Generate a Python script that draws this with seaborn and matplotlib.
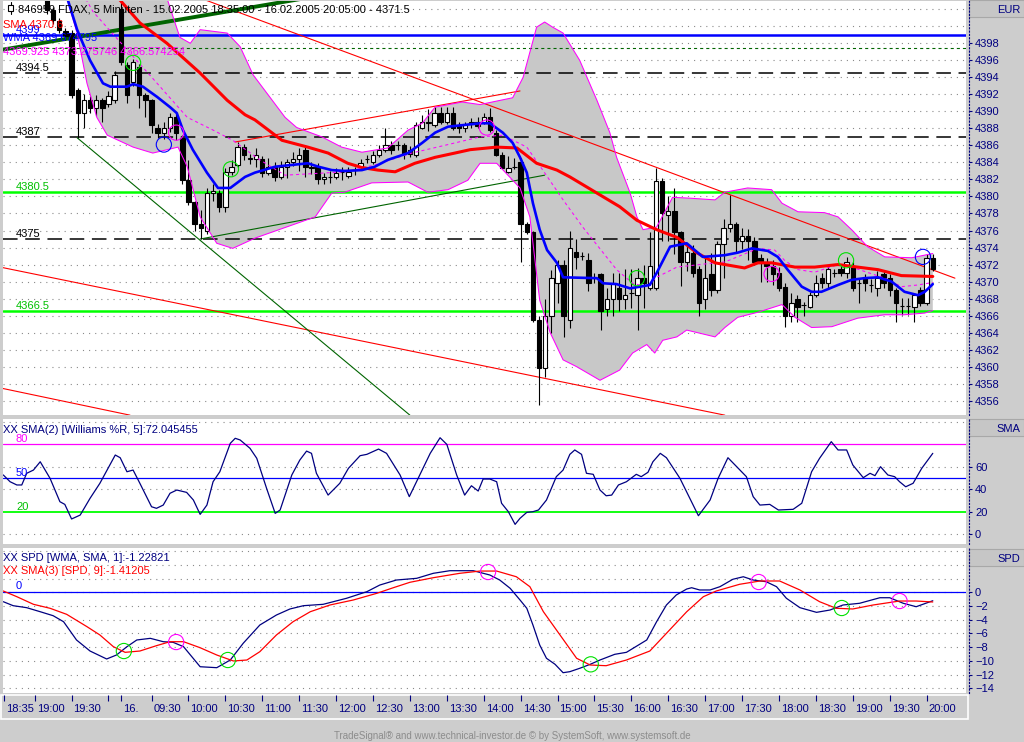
import matplotlib
matplotlib.use('Agg')
import numpy as np
import seaborn as sns
from matplotlib import pyplot as plt
from matplotlib import transforms
from matplotlib.lines import Line2D
from matplotlib.patches import Rectangle

# ---------------- data (bar index = 5 minute bar, 0 = 15.02. 18:35) ----------------
first_bar = 7
opens = [4404.0, 4401.9, 4400.6, 4399.4, 4399.2, 4392.5, 4389.8, 4391.3, 4390.4, 4391.3,
         4390.9, 4391.3, 4402.0, 4395.4, 4393.4, 4395.2, 4391.9, 4391.3, 4388.0, 4387.4,
         4388.0, 4389.3, 4386.9, 4381.9, 4379.3, 4376.8, 4375.9, 4380.4, 4380.4, 4378.8,
         4382.9, 4383.7, 4385.8, 4384.4, 4384.4, 4384.4, 4382.8, 4383.5, 4382.3, 4383.5,
         4384.0, 4384.4, 4385.5, 4383.5, 4383.5, 4382.0, 4382.3, 4382.3, 4382.9, 4382.4,
         4383.1, 4383.5, 4384.4, 4384.0, 4384.9, 4385.5, 4386.0, 4386.0, 4386.0, 4385.5,
         4384.9, 4388.0, 4388.6, 4388.4, 4389.8, 4388.7, 4389.8, 4388.4, 4388.0, 4388.5,
         4388.8, 4388.7, 4389.3, 4387.4, 4384.9, 4382.9, 4383.5, 4384.0, 4376.8, 4375.8,
         4365.5, 4359.9, 4366.0, 4369.8, 4371.9, 4365.5, 4373.5, 4373.0, 4372.5, 4370.4,
         4370.9, 4366.8, 4367.9, 4369.3, 4367.9, 4368.6, 4368.4, 4370.4, 4369.3, 4369.3,
         4381.8, 4377.8, 4378.3, 4375.8, 4372.3, 4373.3, 4371.5, 4368.0, 4370.9, 4369.0,
         4374.4, 4376.3, 4376.8, 4374.8, 4375.4, 4374.8, 4372.8, 4372.3, 4371.8, 4371.0,
         4369.4, 4366.0, 4368.0, 4367.2, 4367.0, 4368.4, 4370.4, 4369.8, 4371.0, 4371.5,
         4371.0, 4371.8, 4369.8, 4370.4, 4369.6, 4369.3, 4370.9, 4370.4, 4369.0, 4367.1,
         4367.1, 4367.0, 4369.0, 4367.5, 4372.8]
highs = [4405.0, 4402.3, 4401.0, 4399.8, 4399.6, 4392.8, 4392.0, 4391.8, 4391.9, 4391.6,
         4392.4, 4394.8, 4403.3, 4395.8, 4396.2, 4395.6, 4392.2, 4391.5, 4388.5, 4388.7,
         4389.8, 4389.7, 4387.2, 4384.3, 4379.5, 4378.4, 4381.0, 4381.5, 4380.8, 4383.3,
         4384.3, 4386.4, 4386.2, 4385.0, 4385.7, 4384.7, 4384.5, 4384.0, 4384.2, 4384.4,
         4385.2, 4385.7, 4386.0, 4384.0, 4383.9, 4382.7, 4383.0, 4383.3, 4383.5, 4383.5,
         4383.5, 4384.4, 4384.9, 4385.3, 4386.0, 4388.0, 4386.5, 4386.5, 4386.3, 4385.9,
         4388.8, 4389.6, 4390.3, 4390.5, 4390.5, 4390.5, 4390.5, 4388.8, 4388.8, 4389.2,
         4389.3, 4389.8, 4390.4, 4387.8, 4385.2, 4384.7, 4384.5, 4384.5, 4377.0, 4376.0,
         4366.0, 4368.0, 4371.4, 4372.5, 4372.5, 4376.0, 4375.0, 4373.5, 4373.3, 4371.0,
         4371.0, 4369.3, 4371.0, 4371.0, 4371.5, 4371.5, 4371.6, 4371.9, 4375.8, 4383.3,
         4382.2, 4380.0, 4381.0, 4376.0, 4374.3, 4374.3, 4371.8, 4373.0, 4373.3, 4374.8,
         4377.3, 4380.2, 4377.0, 4376.3, 4376.2, 4375.2, 4373.2, 4372.8, 4372.5, 4371.7,
         4369.8, 4368.7, 4368.4, 4367.6, 4368.8, 4370.8, 4371.0, 4371.8, 4371.5, 4371.8,
         4372.9, 4372.3, 4370.4, 4370.9, 4370.3, 4371.2, 4371.3, 4370.9, 4369.2, 4368.1,
         4368.1, 4368.6, 4369.4, 4373.2, 4373.2]
lows = [4401.5, 4400.3, 4399.2, 4398.4, 4391.6, 4386.9, 4388.0, 4389.8, 4389.4, 4388.7,
        4390.5, 4391.0, 4395.5, 4391.0, 4393.0, 4390.4, 4389.3, 4387.4, 4386.9, 4386.8,
        4387.6, 4386.6, 4381.5, 4379.0, 4376.0, 4375.0, 4375.6, 4379.5, 4378.2, 4378.2,
        4382.5, 4383.5, 4384.3, 4383.8, 4383.5, 4382.3, 4382.5, 4381.8, 4382.0, 4382.2,
        4383.6, 4383.0, 4382.3, 4382.6, 4381.5, 4381.5, 4381.6, 4382.1, 4381.9, 4382.2,
        4382.5, 4383.1, 4383.9, 4383.8, 4384.6, 4385.2, 4385.0, 4385.5, 4384.4, 4384.6,
        4384.6, 4387.9, 4387.7, 4388.2, 4388.5, 4388.5, 4387.8, 4387.5, 4387.6, 4388.0,
        4388.0, 4388.5, 4387.6, 4384.8, 4383.3, 4382.7, 4383.2, 4372.3, 4375.6, 4365.3,
        4355.5, 4358.8, 4364.0, 4367.5, 4363.5, 4364.5, 4371.5, 4372.5, 4368.9, 4369.8,
        4364.3, 4366.0, 4366.0, 4366.5, 4366.8, 4366.9, 4364.3, 4366.9, 4369.0, 4369.0,
        4374.8, 4374.8, 4373.2, 4369.5, 4371.2, 4370.5, 4366.0, 4366.8, 4368.3, 4368.7,
        4370.4, 4375.8, 4373.5, 4373.8, 4372.5, 4371.9, 4370.0, 4370.0, 4369.6, 4368.9,
        4364.7, 4365.3, 4365.3, 4366.0, 4366.9, 4368.2, 4369.3, 4369.3, 4370.5, 4370.6,
        4370.4, 4368.9, 4367.5, 4368.9, 4368.8, 4368.3, 4369.3, 4368.3, 4365.2, 4366.1,
        4366.1, 4365.3, 4367.1, 4367.3, 4371.2]
closes = [4401.9, 4400.7, 4399.6, 4398.9, 4391.9, 4389.8, 4391.3, 4390.4, 4391.3, 4390.4,
          4391.8, 4394.3, 4395.8, 4391.9, 4395.8, 4391.9, 4391.3, 4388.4, 4387.4, 4388.0,
          4389.3, 4387.4, 4381.9, 4379.3, 4376.8, 4376.3, 4380.4, 4380.6, 4378.8, 4382.9,
          4383.5, 4385.8, 4384.9, 4384.5, 4384.9, 4382.8, 4383.5, 4382.3, 4383.5, 4384.0,
          4384.4, 4384.9, 4383.5, 4383.3, 4382.0, 4382.3, 4382.3, 4382.8, 4382.9, 4382.9,
          4383.1, 4383.9, 4384.4, 4384.9, 4385.5, 4386.0, 4385.5, 4386.0, 4385.0, 4385.0,
          4388.4, 4388.8, 4388.8, 4389.8, 4388.7, 4389.8, 4388.0, 4388.0, 4388.4, 4388.7,
          4388.3, 4389.3, 4387.8, 4384.9, 4383.4, 4383.4, 4383.5, 4376.8, 4375.8, 4365.5,
          4359.9, 4366.0, 4370.4, 4371.9, 4366.0, 4374.0, 4372.9, 4373.0, 4369.8, 4370.4,
          4366.5, 4367.9, 4369.8, 4367.9, 4368.4, 4368.6, 4370.4, 4369.8, 4371.8, 4381.8,
          4378.0, 4378.3, 4375.8, 4372.3, 4373.5, 4371.0, 4367.5, 4370.4, 4369.0, 4374.4,
          4376.3, 4376.8, 4374.8, 4375.4, 4374.8, 4372.3, 4372.3, 4371.8, 4370.9, 4369.3,
          4366.0, 4367.5, 4367.0, 4367.2, 4368.4, 4369.8, 4369.8, 4371.5, 4371.0, 4371.0,
          4372.3, 4369.3, 4369.8, 4369.8, 4369.6, 4370.4, 4369.8, 4369.0, 4367.5, 4367.1,
          4367.1, 4368.4, 4367.5, 4372.8, 4371.5]

sma_bar = [18.0, 22.1, 26.5, 31.9, 36.3, 39.2, 40.8, 45.2, 49.4, 52.7, 55.9, 58.2, 60.8, 63.6,
           66.8, 70.1, 73.3, 75.8, 80.1, 83.4, 86.6, 89.9, 92.0, 96.4, 100.1, 102.9, 106.1,
           109.4, 112.6, 115.6, 120.4, 122.6, 124.8, 128.6, 131.8, 135.6, 138.8, 142.1, 145.9, 151.0]
sma_val = [4403.8, 4400.4, 4398.0, 4394.5, 4391.3, 4389.6, 4389.0, 4386.6, 4385.8, 4385.1,
           4383.9, 4383.4, 4383.1, 4382.9, 4383.9, 4384.6, 4385.1, 4385.5, 4385.8, 4385.7,
           4383.9, 4383.1, 4382.3, 4380.4, 4378.8, 4377.2, 4376.1, 4375.2, 4373.4, 4372.2,
           4371.6, 4372.2, 4372.2, 4371.7, 4371.7, 4372.0, 4371.7, 4371.4, 4370.7, 4370.6]

wma_bar = [10.3, 11.9, 14.0, 16.1, 17.3, 20.0, 21.0, 22.6, 24.9, 27.0, 28.1, 29.1, 30.7, 33.0,
           34.8, 36.8, 39.2, 40.8, 44.1, 49.4, 51.1, 53.3, 55.4, 58.2, 60.3, 62.4, 65.7, 68.0,
           70.1, 72.2, 77.4, 79.0, 81.1, 82.7, 83.9, 85.0, 86.0, 87.1, 88.3, 89.9, 90.9, 96.4,
           97.4, 99.6, 101.8, 105.0, 106.1, 108.3, 111.0, 113.6, 117.2, 119.3, 121.6, 124.2,
           125.8, 127.4, 129.7, 131.3, 132.9, 135.6, 137.8, 139.9, 142.1, 144.3, 146.4, 148.6,
           149.7, 151.0]
wma_val = [4403.3, 4399.6, 4396.0, 4393.3, 4392.9, 4392.9, 4393.2, 4392.9, 4391.7, 4390.5,
           4389.8, 4387.8, 4385.5, 4382.8, 4381.0, 4381.0, 4382.3, 4382.8, 4383.5, 4383.9,
           4383.5, 4383.1, 4383.0, 4383.1, 4383.5, 4384.3, 4385.1, 4386.3, 4387.5, 4388.2,
           4388.6, 4388.6, 4387.5, 4386.3, 4384.6, 4382.8, 4379.2, 4376.1, 4373.7, 4372.2,
           4370.5, 4370.4, 4369.8, 4369.7, 4369.2, 4369.6, 4371.0, 4374.1, 4374.5, 4372.9,
           4373.1, 4373.4, 4373.9, 4373.6, 4372.9, 4371.4, 4369.4, 4368.8, 4368.8, 4369.6,
           4370.2, 4370.4, 4370.5, 4370.0, 4368.8, 4368.4, 4368.8, 4369.7]

bb_up_bar = [8.6, 26.5, 28.6, 30.3, 31.9, 36.3, 38.4, 40.5, 45.7, 47.6, 51.7, 54.9, 58.2, 62.4,
             65.7, 68.0, 70.1, 74.5, 77.4, 82.7, 84.4, 86.6, 87.9, 89.2, 90.9, 93.6, 96.4, 98.5,
             99.6, 101.8, 102.9, 103.9, 106.1, 108.7, 111.5, 115.6, 117.2, 120.9, 124.8, 126.5,
             129.1, 133.4, 135.6, 137.8, 140.4, 143.2, 147.6, 151.0]
bb_up_val = [4404.0, 4403.3, 4398.7, 4398.0, 4399.6, 4399.2, 4397.6, 4394.3, 4389.3, 4388.1,
             4387.0, 4385.8, 4385.2, 4385.7, 4387.8, 4388.6, 4390.5, 4391.1, 4390.8, 4391.6,
             4394.0, 4399.9, 4400.5, 4399.9, 4399.2, 4396.0, 4391.3, 4387.5, 4384.6, 4380.4,
             4377.6, 4376.1, 4376.4, 4379.9, 4379.8, 4379.6, 4380.5, 4381.0, 4380.8, 4379.2,
             4378.2, 4378.1, 4377.6, 4376.1, 4374.1, 4372.9, 4372.8, 4373.3]
bb_lo_bar = [8.6, 10.3, 11.9, 13.5, 15.1, 16.8, 21.0, 24.2, 28.3, 29.8, 31.9, 34.6, 37.2, 40.8,
             50.6, 53.3, 55.4, 59.8, 65.7, 68.9, 72.2, 75.4, 77.4, 80.1, 83.9, 85.5, 87.1, 88.8,
             90.9, 93.1, 96.9, 100.1, 102.2, 104.5, 105.8, 107.1, 109.4, 111.0, 115.6, 117.2,
             119.3, 122.6, 126.5, 128.6, 131.3, 134.6, 138.8, 143.2, 146.4, 149.7, 151.0]
bb_lo_val = [4404.0, 4403.1, 4399.2, 4393.3, 4389.3, 4387.2, 4385.8, 4385.1, 4385.8, 4383.5,
             4377.6, 4374.5, 4373.9, 4375.1, 4377.6, 4380.4, 4380.5, 4381.6, 4381.7, 4380.5,
             4380.8, 4381.9, 4383.9, 4383.9, 4381.0, 4377.6, 4367.8, 4364.0, 4360.8, 4360.0,
             4358.4, 4359.6, 4361.6, 4362.6, 4361.6, 4363.1, 4363.5, 4364.3, 4363.5, 4364.6,
             4365.8, 4366.4, 4367.3, 4365.8, 4364.6, 4364.7, 4365.7, 4366.1, 4366.1, 4366.3,
             4366.6]
bb_mid_bar = [13.0, 14.5, 24.9, 29.8, 34.0, 37.2, 41.6, 45.7, 55.5, 60.3, 66.3, 72.2, 77.4, 81.1,
              85.0, 87.6, 90.9, 94.1, 97.4, 99.6, 102.2, 104.5, 106.1, 109.4, 115.6, 117.2,
              122.6, 125.3, 126.9, 129.1, 131.8, 135.6, 137.8, 143.2, 145.9, 148.6, 151.0]
bb_mid_val = [4403.6, 4401.7, 4393.3, 4389.3, 4387.8, 4386.6, 4384.3, 4382.5, 4382.9, 4383.7,
              4385.1, 4386.1, 4387.0, 4387.2, 4385.8, 4383.1, 4379.6, 4376.4, 4373.4, 4371.4,
              4369.8, 4369.4, 4370.5, 4371.7, 4372.2, 4372.3, 4373.9, 4373.7, 4372.5, 4371.4,
              4371.1, 4372.0, 4371.7, 4370.4, 4369.4, 4369.6, 4369.9]

# drawn trend lines: (bar, price) anchors
trend_red = [([32.7, 154.6], [4403.1, 4370.4]),
             ([-0.6, 117.2], [4371.7, 4354.3]),
             ([-0.6, 20.5], [4357.5, 4354.3]),
             ([37.6, 83.9], [4386.4, 4392.4])]
trend_green = [([11.9, 66.0], [4386.9, 4354.3]),
               ([31.9, 87.9], [4375.0, 4382.5])]
trend_green_thick = ([-0.6, 49.0], [4397.2, 4403.3])

levels_black = [4394.5, 4387, 4375]
levels_green = [4380.5, 4366.5]
level_blue = 4399
level_green_dash = 4397.5

main_circle_bar = [21.0, 26.0, 28.0, 36.9, 78.5, 102.9, 124.8, 136.9, 149.4]
main_circle_val = [4395.7, 4386.1, 4387.5, 4383.2, 4388.1, 4370.4, 4370.9, 4372.5, 4372.9]
main_circle_kind = ['g', 'b', 'm', 'g', 'm', 'g', 'm', 'g', 'b']

will_bar = [-0.1, 1.0, 2.1, 2.9, 3.7, 4.8, 5.9, 7.5, 9.1, 9.9,
            11.0, 12.4, 14.0, 15.6, 18.1, 18.9, 20.0, 21.0, 22.1, 24.0,
            24.8, 25.9, 27.0, 28.1, 29.7, 30.8, 31.9, 33.0, 34.0, 35.1,
            36.8, 37.6, 38.4, 40.0, 41.1, 42.7, 44.1, 44.9, 46.8, 48.1,
            49.2, 50.0, 50.8, 52.7, 54.6, 56.0, 57.9, 59.0, 60.9, 62.2,
            64.4, 65.9, 67.6, 69.3, 70.9, 72.0, 73.6, 74.9, 76.0, 77.1,
            77.9, 79.0, 80.1, 80.9, 82.0, 83.1, 83.9, 85.0, 86.0, 86.9,
            88.2, 89.8, 90.9, 92.0, 92.8, 93.9, 94.7, 95.8, 96.9, 97.9,
            98.8, 99.9, 101.2, 102.8, 103.6, 104.7, 105.5, 106.7, 107.7, 109.9,
            112.9, 114.8, 116.1, 117.7, 120.7, 121.8, 122.9, 124.5, 125.9, 128.3,
            129.7, 131.3, 132.6, 134.5, 135.6, 137.0, 138.0, 139.7, 140.8, 141.6,
            142.5, 143.7, 144.8, 145.6, 146.6, 147.8, 149.2, 151.0]
will_val = [52.7, 46.7, 43.8, 43.8, 54.2, 57.1, 64.5, 49.7, 28.9, 26.5,
            13.5, 17.0, 31.9, 45.3, 70.5, 68.1, 55.6, 57.1, 45.3, 24.4,
            23.0, 25.9, 36.4, 39.3, 37.2, 30.4, 17.6, 25.9, 46.7, 55.6,
            80.9, 85.4, 83.9, 76.5, 67.6, 40.8, 18.5, 21.5, 52.7, 66.0,
            74.0, 72.0, 54.2, 34.8, 45.3, 58.6, 69.9, 71.1, 75.8, 72.0,
            52.7, 33.4, 52.7, 72.0, 85.9, 80.0, 52.7, 34.8, 43.1, 38.4,
            49.1, 49.1, 46.7, 27.5, 20.0, 8.7, 14.1, 19.4, 20.0, 21.5,
            30.4, 51.2, 57.1, 71.1, 75.0, 71.1, 54.2, 53.3, 39.3, 34.2,
            34.8, 43.8, 46.7, 53.3, 51.2, 55.1, 64.5, 72.0, 68.1, 49.7,
            16.4, 30.4, 49.7, 68.1, 51.2, 33.4, 25.9, 26.5, 21.5, 22.1,
            27.5, 55.6, 67.6, 82.4, 75.0, 75.0, 61.6, 50.3, 54.2, 52.1,
            60.1, 52.7, 51.2, 46.7, 42.2, 45.3, 58.6, 72.0]

spd_bar = [-0.1, 1.5, 3.7, 5.9, 8.0, 9.7, 11.8, 14.0, 16.7, 18.3,
           20.0, 21.6, 23.8, 25.9, 27.5, 29.2, 31.9, 34.6, 36.8, 38.9,
           41.6, 44.3, 46.5, 48.7, 51.9, 55.7, 59.0, 61.1, 63.8, 67.1,
           69.8, 72.5, 76.3, 79.0, 80.6, 82.3, 83.9, 85.0, 86.0, 87.1,
           88.2, 89.6, 90.9, 92.0, 93.6, 95.3, 96.9, 99.3, 101.2, 104.5,
           106.1, 107.7, 109.3, 111.0, 111.8, 113.1, 114.8, 116.4, 118.5, 120.2,
           121.8, 123.9, 125.6, 127.2, 129.4, 132.1, 134.3, 136.4, 139.1, 142.4,
           144.0, 146.2, 148.3, 151.0]
spd_val = [-1.37, -1.95, -2.24, -2.83, -3.41, -4.29, -6.95, -8.56, -9.72, -9.14,
           -7.93, -6.95, -6.71, -7.2, -7.29, -7.93, -10.85, -10.99, -9.87, -7.43,
           -4.77, -3.31, -2.43, -1.95, -1.75, -0.87, 0.09, 1.06, 1.79, 2.04,
           2.77, 3.15, 3.15, 2.52, 1.79, 0.58, -1.12, -2.33, -4.77, -7.68,
           -9.62, -10.5, -11.72, -11.57, -11.08, -10.5, -9.87, -9.04, -8.75, -6.95,
           -4.29, -1.85, -0.39, 0.48, 0.67, 0.34, 0.34, 0.82, 1.9, 2.27,
           1.79, 1.55, 0.82, -0.87, -2.24, -2.92, -2.58, -1.85, -1.6, -0.79,
           -0.79, -1.6, -2.1, -1.23]
sig_bar = [-0.1, 2.1, 4.8, 7.5, 10.2, 13.5, 15.6, 17.8, 19.7, 22.1,
           24.8, 27.0, 29.2, 31.9, 34.6, 37.3, 39.5, 41.6, 44.3, 47.0,
           49.8, 53.0, 56.8, 60.6, 63.3, 66.0, 69.8, 74.1, 77.4, 80.1,
           83.3, 85.5, 87.7, 90.4, 93.1, 95.3, 97.9, 101.2, 105.0, 107.7,
           111.0, 113.7, 115.8, 119.6, 122.9, 126.1, 129.4, 132.6, 135.3, 138.0,
           141.3, 145.6, 148.3, 151.0]
sig_val = [0.19, -0.64, -1.75, -2.33, -3.21, -5.01, -6.22, -7.93, -8.75, -8.56,
           -7.78, -7.2, -7.2, -8.08, -9.14, -10.01, -9.87, -8.66, -6.22, -4.29,
           -2.83, -1.85, -1.12, -0.15, 0.67, 1.46, 2.13, 2.77, 3.1, 3.1,
           2.27, 0.82, -2.83, -6.22, -9.62, -10.6, -10.7, -9.87, -8.56, -5.98,
           -2.83, -0.64, 0.19, 1.17, 1.65, 1.65, 0.34, -1.37, -2.33, -2.43,
           -1.85, -1.27, -1.27, -1.41]
spd_circle_bar = [19.5, 28.0, 36.4, 78.7, 95.4, 122.7, 136.2, 145.6]
spd_circle_val = [-8.56, -7.25, -9.87, 2.96, -10.5, 1.5, -2.29, -1.27]
spd_circle_kind = ['g', 'm', 'g', 'm', 'g', 'm', 'g', 'm']

time_labels = ['18:35', '19:00', '19:30', '16.', '09:30', '10:00', '10:30', '11:00', '11:30',
               '12:00', '12:30', '13:00', '13:30', '14:00', '14:30', '15:00', '15:30', '16:00',
               '16:30', '17:00', '17:30', '18:00', '18:30', '19:00', '19:30', '20:00']
time_label_bars = [0, 5, 11, 19, 24, 30, 36, 42, 48, 54, 60, 66, 72, 78, 84, 90, 96, 102,
                   108, 114, 120, 126, 132, 138, 144, 150]

# ---------------- style ----------------
W, H = 1024, 742
NAVY = '#000080'
BG = '#cdcdcd'
GRID = '#8a8a8a'
CIRCLE = {'g': '#00e000', 'b': '#0000ff', 'm': '#ff00ff'}
XLIM = (-0.15, 156.4)

sns.set_style('white')
plt.rcParams['font.family'] = ['Liberation Sans', 'DejaVu Sans']
plt.rcParams['lines.scale_dashes'] = False
NARROW = ['Liberation Sans Narrow', 'Liberation Sans', 'DejaVu Sans']

fig = plt.figure(figsize=(W / 100, H / 100), dpi=100, facecolor=BG)


def fig_box(x0, y0, x1, y1):
    return [x0 / W, 1 - y1 / H, (x1 - x0) / W, (y1 - y0) / H]


def px_text(x, y, s, **kw):
    kw.setdefault('fontsize', 8)
    kw.setdefault('va', 'baseline')
    kw.setdefault('zorder', 10)
    fig.text(x / W, 1 - y / H, s, **kw)


def style_panel(ax, ylim, ticks, grid_levels):
    ax.set_facecolor('white')
    ax.set_xlim(*XLIM)
    ax.set_ylim(*ylim)
    for s in ['top', 'left', 'bottom']:
        ax.spines[s].set_visible(False)
    ax.spines['right'].set_position(('outward', 2.5))
    ax.spines['right'].set_linestyle((0, (0.8, 1.6)))
    ax.spines['right'].set_color(NAVY)
    ax.spines['right'].set_linewidth(0.8)
    ax.yaxis.tick_right()
    ax.set_yticks(ticks)
    ax.tick_params(axis='y', direction='out', length=2.5, width=0.8, colors=NAVY,
                   labelsize=8, pad=1.5)
    ax.tick_params(axis='x', bottom=False, labelbottom=False)
    for g in grid_levels:
        ax.axhline(g, color=GRID, lw=0.8, ls=(0, (0.8, 3.6)), zorder=0.5)
    ax.set_xlabel('')
    ax.set_ylabel('')


def line(ax, xs, ys, color, lw, z, ls='-'):
    sns.lineplot(x=xs, y=ys, ax=ax, color=color, linewidth=lw, estimator=None,
                 sort=False, zorder=z)
    ax.lines[-1].set_linestyle(ls)


def level_label(ax, y, s, color, dy=2):
    trans = transforms.blended_transform_factory(ax.transAxes, ax.transData)
    trans = transforms.offset_copy(trans, fig=fig, x=0, y=dy, units='dots')
    ax.text(13 / 963, y, s, color=color, fontsize=8, va='baseline', transform=trans, zorder=6)


# header boxes of the right scales and the time strip (below the axes)
for y0, y1, lab in [(0, 17, 'EUR'), (419, 436, 'SMA'), (549, 566, 'SPD')]:
    fig.add_artist(Rectangle((969 / W, 1 - y1 / H), 55 / W, (y1 - y0) / H,
                             transform=fig.transFigure, fc='#c6c6c6', ec='#a8a8a8', lw=0.8,
                             zorder=-2))
    px_text(1020, y0 + 13, lab, color=NAVY, ha='right')
fig.add_artist(Rectangle((1 / W, 1 - 719 / H), 967 / W, 24 / H, transform=fig.transFigure,
                         fc=BG, ec='white', lw=1.2, zorder=-2))

ax_main = fig.add_axes(fig_box(3, 1, 966, 415))
ax_will = fig.add_axes(fig_box(3, 419, 966, 544))
ax_spd = fig.add_axes(fig_box(3, 548, 966, 693))
ax_time = fig.add_axes(fig_box(3, 695, 966, 718))

# ---------------- main price panel ----------------
bars = np.arange(first_bar, first_bar + len(closes))
o, h, l, c = map(np.asarray, (opens, highs, lows, closes))

ax_main.fill(np.concatenate([bb_up_bar, bb_lo_bar[::-1]]),
             np.concatenate([bb_up_val, bb_lo_val[::-1]]), color='#c8c8c8', lw=0, zorder=1)

ax_main.axhline(level_blue, color='#0000ff', lw=1.8, zorder=2)
ax_main.axhline(level_green_dash, color='#006400', lw=0.8, ls=(0, (2.2, 2.2)), zorder=2)
for lv in levels_black:
    ax_main.axhline(lv, color='black', lw=1.1, ls=(0, (10.5, 5.5)), zorder=2)
for lv in levels_green:
    ax_main.axhline(lv, color='#00ff00', lw=1.8, zorder=2)

for xs, ys in trend_red:
    ax_main.plot(xs, ys, color='#ff0000', lw=0.8, zorder=2.5)
for xs, ys in trend_green:
    ax_main.plot(xs, ys, color='#006400', lw=0.8, zorder=2.5)
ax_main.plot(*trend_green_thick, color='#006400', lw=2.8, zorder=2.5)

ax_main.vlines(bars, l, h, color='black', lw=0.8, zorder=3)
ax_main.bar(bars, np.abs(c - o), bottom=np.minimum(o, c), width=0.72,
            color=np.where(c >= o, 'white', 'black'), edgecolor='black', linewidth=0.8, zorder=3.1)

line(ax_main, bb_up_bar, bb_up_val, '#ff00ff', 0.75, 3.5)
line(ax_main, bb_lo_bar, bb_lo_val, '#ff00ff', 0.75, 3.5)
line(ax_main, bb_mid_bar, bb_mid_val, '#ff00ff', 0.75, 3.5, ls=(0, (2.2, 2.2)))
line(ax_main, sma_bar, sma_val, '#ff0000', 2.2, 4)
line(ax_main, wma_bar, wma_val, '#0000ff', 1.9, 4.1)

ax_main.scatter(main_circle_bar, main_circle_val, s=120, facecolors='none',
                edgecolors=[CIRCLE[k] for k in main_circle_kind], linewidths=0.8, zorder=5)

style_panel(ax_main, (4354.32, 4402.97), np.arange(4356, 4399, 2), np.arange(4356, 4403, 2))

for lv in levels_black:
    level_label(ax_main, lv, f'{lv:g}', 'black')
for lv in levels_green:
    level_label(ax_main, lv, f'{lv:g}', '#00c000')
level_label(ax_main, level_blue, f'{level_blue:g}', '#0000ff')

# legend texts
fig.add_artist(Line2D([10.5 / W] * 2, [1 - 2 / H, 1 - 14 / H], transform=fig.transFigure,
                      color='black', lw=0.8, zorder=9))
fig.add_artist(Rectangle((8 / W, 1 - 11 / H), 5 / W, 6 / H, transform=fig.transFigure,
                         fc='white', ec='black', lw=0.8, zorder=9))
px_text(18, 13, '846959 FDAX, 5 Minuten - 15.02.2005 18:35:00 - 16.02.2005 20:05:00 - 4371.5',
        color='black')
px_text(3, 28, 'SMA 4370.6', color='#ff0000')
px_text(3, 41, 'WMA 4369.674795', color='#0000ff')
px_text(3, 55, '4369.925 4373.275746 4366.574254', color='#ff00ff')

# ---------------- Williams %R panel ----------------
ax_will.axhline(80, color='#ff00ff', lw=0.9, zorder=2)
ax_will.axhline(50, color='#0000ff', lw=0.9, zorder=2)
ax_will.axhline(20, color='#00ff00', lw=1.3, zorder=2)
line(ax_will, will_bar, will_val, NAVY, 0.9, 3)
style_panel(ax_will, (-8.8, 102.6), [0, 20, 40, 60], [0, 40, 60, 100])
level_label(ax_will, 80, '80', '#ff00ff')
level_label(ax_will, 50, '50', '#0000ff')
level_label(ax_will, 20, '20', '#00c000')
px_text(3, 433, 'XX SMA(2) [Williams %R, 5]:72.045455', color=NAVY)

# ---------------- SPD panel ----------------
ax_spd.axhline(0, color='#0000ff', lw=0.9, zorder=2)
line(ax_spd, spd_bar, spd_val, NAVY, 0.9, 3)
line(ax_spd, sig_bar, sig_val, '#ff0000', 0.9, 3.1)
ax_spd.scatter(spd_circle_bar, spd_circle_val, s=120, facecolors='none',
               edgecolors=[CIRCLE[k] for k in spd_circle_kind], linewidths=0.8, zorder=5)
style_panel(ax_spd, (-14.68, 6.46), np.arange(-14, 1, 2), np.arange(-14, 7, 2))
level_label(ax_spd, 0, '0', '#0000ff', dy=3)
px_text(3, 561, 'XX SPD [WMA, SMA, 1]:-1.22821', color=NAVY)
px_text(3, 574, 'XX SMA(3) [SPD, 9]:-1.41205', color='#ff0000')

# ---------------- time axis ----------------
ax_time.patch.set_visible(False)
for s in ax_time.spines.values():
    s.set_visible(False)
ax_time.set_xlim(*XLIM)
ax_time.set_ylim(0, 1)
ax_time.set_yticks([])
ax_time.set_xticks(sorted(time_label_bars + [17]))
ax_time.tick_params(axis='x', top=True, bottom=False, direction='in', length=4, width=0.8,
                    color=NAVY, labeltop=False, labelbottom=False)
ttrans = transforms.offset_copy(ax_time.get_xaxis_transform(), fig=fig, x=2, y=0, units='dots')
for b, lab in zip(time_label_bars, time_labels):
    ax_time.text(b, 0.28, lab, color=NAVY, fontsize=8, family=NARROW, ha='left',
                 va='baseline', transform=ttrans)

px_text(512, 739, 'TradeSignal\u00ae and www.technical-investor.de \u00a9 by SystemSoft, www.systemsoft.de',
        color='#8c8c8c', fontsize=7, ha='center', family=NARROW)

fig.savefig('out.png', dpi=100, facecolor=BG)
